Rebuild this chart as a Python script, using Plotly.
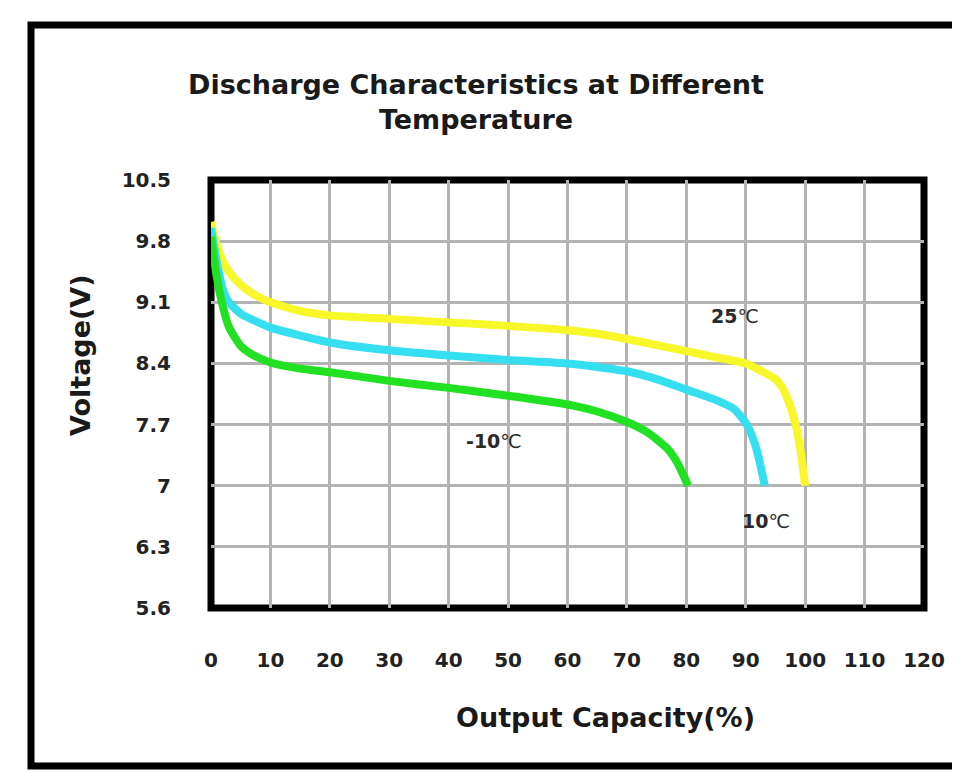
import plotly.graph_objects as go

# ---- data ----
x_25 = [0, 1, 2, 3, 5, 7, 10, 15, 20, 30, 40, 50, 60, 65, 70, 75, 80, 85, 90, 93, 95, 96, 97, 98, 99, 100]
v_25 = [10.02, 9.75, 9.57, 9.45, 9.30, 9.20, 9.10, 9.00, 8.95, 8.91, 8.87, 8.83, 8.78, 8.74, 8.68,
        8.61, 8.54, 8.47, 8.40, 8.30, 8.22, 8.14, 8.00, 7.80, 7.50, 7.00]

x_10 = [0, 1, 2, 3, 5, 7, 10, 15, 20, 30, 40, 50, 60, 65, 70, 75, 80, 85, 88, 90, 91, 92, 93.2]
v_10 = [9.95, 9.55, 9.25, 9.10, 8.97, 8.90, 8.81, 8.72, 8.64, 8.55, 8.49, 8.44, 8.40, 8.36, 8.31,
        8.22, 8.10, 7.98, 7.88, 7.72, 7.58, 7.37, 7.00]

x_m10 = [0, 1, 2, 3, 5, 7, 10, 15, 20, 30, 40, 50, 60, 65, 70, 73, 75, 77, 78.5, 79.5, 80.3]
v_m10 = [9.85, 9.38, 9.05, 8.82, 8.60, 8.50, 8.41, 8.34, 8.30, 8.20, 8.12, 8.03, 7.93, 7.85, 7.73,
         7.63, 7.53, 7.41, 7.26, 7.12, 7.00]

x_ticks = [0, 10, 20, 30, 40, 50, 60, 70, 80, 90, 100, 110, 120]
y_ticks = [5.6, 6.3, 7.0, 7.7, 8.4, 9.1, 9.8, 10.5]
y_tick_text = ["5.6", "6.3", "7", "7.7", "8.4", "9.1", "9.8", "10.5"]

series_names = ["25℃", "10℃", "-10℃"]
series_label_num = ["25", "10", "-10"]
series_colors = ["#f7f72a", "#36dff0", "#22e022"]

FONT = "DejaVu Sans"

# figure is placed 8px inside the page (body margin)
W, H = 952, 764
L, R, T, B = 203, 36, 172, 164
PW, PH = W - L - R, H - T - B


def px_x(p):  # page pixel -> paper x
    return (p - 8 - L) / PW


def px_y(p):  # page pixel -> paper y
    return (H - B - (p - 8)) / PH


fig = go.Figure()
for xs, ys, name, col in zip([x_25, x_10, x_m10], [v_25, v_10, v_m10], series_names, series_colors):
    fig.add_trace(go.Scatter(x=xs, y=ys, mode="lines", name=name,
                             line=dict(color=col, width=8, shape="spline", smoothing=0.6)))

fig.update_layout(
    width=W, height=H,
    margin=dict(l=L, r=R, t=T, b=B),
    paper_bgcolor="white", plot_bgcolor="white",
    showlegend=False,
    title=dict(text="<b>Discharge Characteristics at Different<br>Temperature</b>",
               x=(476 - 8) / W, xref="container", xanchor="center",
               y=1 - 85.5 / H, yref="container", yanchor="middle",
               font=dict(family=FONT, size=27, color="#1a1a1a")),
    font=dict(family=FONT, color="#222222"),
)
fig.update_xaxes(range=[0, 120], tickvals=x_ticks, showgrid=True, gridcolor="#b3b3b3", gridwidth=2.5,
                 zeroline=False, showline=False, ticks="", ticklabelstandoff=38,
                 tickfont=dict(family=FONT, size=20, color="#222222", weight="bold"))
fig.update_yaxes(range=[5.6, 10.5], tickvals=y_ticks, ticktext=y_tick_text, showgrid=True,
                 gridcolor="#b3b3b3", gridwidth=2.5, zeroline=False, showline=False, ticks="",
                 ticklabelstandoff=39,
                 tickfont=dict(family=FONT, size=20, color="#222222", weight="bold"))

# plot frame
fig.add_shape(type="rect", xref="paper", yref="paper", x0=0, y0=0, x1=1, y1=1,
              line=dict(color="black", width=7), layer="between")
# outer frame
fig.add_shape(type="rect", xref="paper", yref="paper", x0=px_x(31), y0=px_y(766), x1=px_x(985), y1=px_y(25),
              line=dict(color="black", width=7), layer="above")

# axis titles
fig.add_annotation(text="<b>Voltage(V)</b>", xref="paper", yref="paper",
                   x=px_x(80), y=px_y(355), textangle=-90,
                   showarrow=False, xanchor="center", yanchor="middle",
                   font=dict(family=FONT, size=27, color="#1a1a1a"))
fig.add_annotation(text="<b>Output Capacity(%)</b>", xref="paper", yref="paper",
                   x=px_x(605), y=px_y(717),
                   showarrow=False, xanchor="center", yanchor="middle",
                   font=dict(family=FONT, size=27, color="#1a1a1a"))

# curve labels
label_pos = [(88.2, 8.94), (93.4, 6.60), (47.6, 7.51)]
for num, (lx, ly) in zip(series_label_num, label_pos):
    fig.add_annotation(text=f"<b>{num}</b>℃", x=lx, y=ly, xref="x", yref="y", showarrow=False,
                       xanchor="center", yanchor="middle",
                       font=dict(family=FONT, size=19, color="#2a2a2a"))

fig.write_html("out.html")
